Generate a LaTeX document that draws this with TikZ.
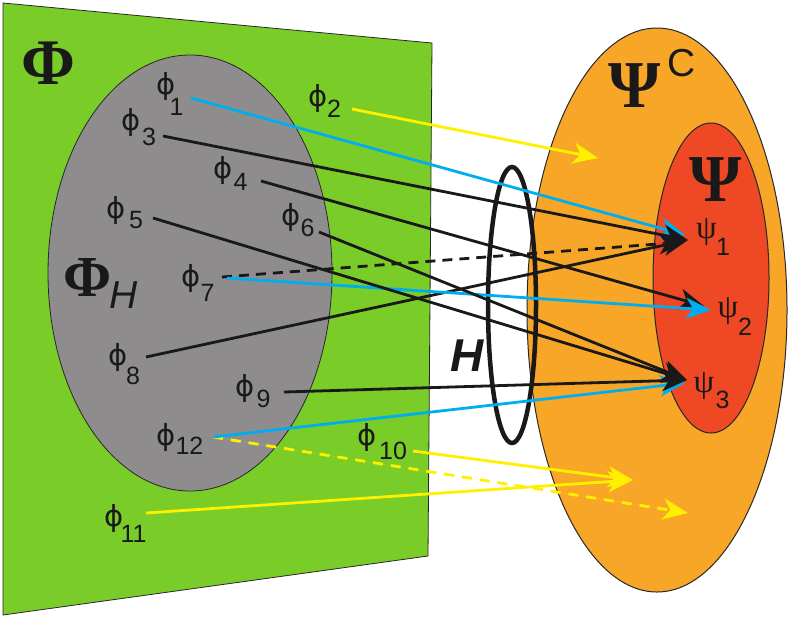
\documentclass[tikz,border=0pt]{standalone}
\usepackage{fontspec}
\setmainfont{Liberation Sans}
\newfontfamily\serifgr{Liberation Serif}
\newfontfamily\dejavu{DejaVu Sans}
\usetikzlibrary{arrows.meta}
\definecolor{planegreen}{RGB}{122,204,41}
\definecolor{setgray}{RGB}{142,140,141}
\definecolor{setorange}{RGB}{247,166,40}
\definecolor{setred}{RGB}{238,72,36}
\definecolor{mapblue}{RGB}{0,174,239}
\definecolor{mapyellow}{RGB}{255,240,0}
\definecolor{edgegray}{RGB}{40,40,40}
\tikzset{
  phil/.style={font=\dejavu\fontsize{29}{31}\selectfont, inner sep=0pt, text=black!90},
  subl/.style={font=\fontsize{25}{27}\selectfont, inner sep=0pt, text=black!90},
  psil/.style={font=\serifgr\fontsize{33}{35}\selectfont, inner sep=0pt, text=black!90},
  bigl/.style={font=\serifgr\bfseries\fontsize{65}{70}\selectfont, inner sep=0pt, text=black!90},
  tipstyle/.style={-{Stealth[length=25pt,width=21pt,inset=7pt]}},
  blackmap/.style={tipstyle, line width=2.8pt, draw=black!90},
  bluemap/.style={tipstyle, line width=2.8pt, draw=mapblue, fill=mapblue},
  yellowmap/.style={tipstyle, line width=2.8pt, draw=mapyellow, fill=mapyellow},
  blackdash/.style={blackmap, dash pattern=on 10pt off 7pt},
  yellowdash/.style={yellowmap, dash pattern=on 10pt off 8pt}
}
\begin{document}
\begin{tikzpicture}[x=1pt,y=-1pt]
\useasboundingbox (0,0) rectangle (791,619);
% domain plane
\draw[fill=planegreen, draw=edgegray, line width=0.8pt] (3,3) -- (432,43) -- (428,556) -- (3,615) -- cycle;
\draw[fill=setgray, draw=edgegray, line width=0.8pt] (190,273) ellipse [x radius=142pt, y radius=218pt];
% codomain
\draw[fill=setorange, draw=edgegray, line width=1pt] (657,310) ellipse [x radius=130pt, y radius=282pt];
\draw[fill=setred, draw=edgegray, line width=1pt] (711,278) ellipse [x radius=58pt, y radius=155pt];
% H ring
\draw[draw=black!90, line width=4.5pt] (512,305) ellipse [x radius=24pt, y radius=138pt];

% labels
\node[bigl] (Phi) at (48.5,63.5) {Φ};
\node[bigl, font=\serifgr\bfseries\fontsize{58}{62}\selectfont] (PhiH) at (87.5,277.5) {Φ};
\node[inner sep=0pt, font=\itshape\fontsize{39}{41}\selectfont, text=black!90] (PhiHsub) at (124,295) {H};
\node[bigl, font=\serifgr\bfseries\fontsize{67}{70}\selectfont] (PsiC) at (634.5,85.5) {Ψ};
\node[inner sep=0pt, font=\fontsize{39}{41}\selectfont, text=black!90] (PsiCsup) at (682,63.5) {C};
\node[bigl, font=\serifgr\bfseries\fontsize{67}{70}\selectfont] (Psi) at (716,180) {Ψ};
\node[inner sep=0pt, font=\bfseries\itshape\fontsize{46}{48}\selectfont, text=black!90] (Hlab) at (467,356) {H};

% phi labels
\node[phil] (p1) at (166,86) {ϕ};     \node[subl] (p1s) at (176.5,106.5) {1};
\node[phil] (p2) at (318,98) {ϕ};     \node[subl] (p2s) at (334,109) {2};
\node[phil] (p3) at (131.5,122.5) {ϕ};\node[subl] (p3s) at (149,136.5) {3};
\node[phil] (p4) at (223.5,170) {ϕ};  \node[subl] (p4s) at (240.5,181.5) {4};
\node[phil] (p5) at (116.5,210) {ϕ};  \node[subl] (p5s) at (136,220) {5};
\node[phil] (p6) at (291.5,217) {ϕ};  \node[subl] (p6s) at (307.5,227.5) {6};
\node[phil] (p7) at (191.5,278) {ϕ};  \node[subl] (p7s) at (207.5,292.5) {7};
\node[phil] (p8) at (118.5,357.5) {ϕ};\node[subl] (p8s) at (133,376) {8};
\node[phil] (p9) at (245,388.5) {ϕ};  \node[subl] (p9s) at (263.5,398.5) {9};
\node[phil] (p12) at (166.5,437) {ϕ}; \node[subl] (p12s) at (189.5,446) {12};
\node[phil] (p10) at (367.5,437) {ϕ}; \node[subl] (p10s) at (393,450.5) {10};
\node[phil] (p11) at (114.5,518) {ϕ}; \node[subl] (p11s) at (133.5,534) {11};

% psi labels
\node[psil] (q1) at (706.5,232.5) {ψ}; \node[subl] (q1s) at (723,247) {1};
\node[psil] (q2) at (728,311) {ψ};     \node[subl] (q2s) at (745,327) {2};
\node[psil] (q3) at (704,386) {ψ};     \node[subl] (q3s) at (722.5,399.5) {3};

% line start and end points
\coordinate (s1) at (191,98);
\coordinate (s2) at (352,109);
\coordinate (s3) at (163,136);
\coordinate (s4) at (261,181);
\coordinate (s5) at (153,218);
\coordinate (s6) at (319,232);
\coordinate (s7d) at (222,277);
\coordinate (s7) at (227,278);
\coordinate (s8) at (146,357);
\coordinate (s9) at (284,392);
\coordinate (s12) at (213,437);
\coordinate (s10) at (413,451);
\coordinate (s11) at (146,513);
\coordinate (t1) at (688,240);
\coordinate (t1b) at (685,235);
\coordinate (t1d) at (684,242);
\coordinate (t2) at (704,306);
\coordinate (t2b) at (711,310);
\coordinate (t3) at (687,380);
\coordinate (t3b) at (685,383);
\coordinate (y1) at (598,158);
\coordinate (y2) at (633,480);
\coordinate (y3) at (688,513);

% mappings
\draw[yellowmap] (s2) -- (y1);
\draw[yellowdash] (s12) -- (y3);
\draw[yellowmap] (s10) -- (y2);
\draw[yellowmap] (s11) -- (y2);
\draw[bluemap] (s1) -- (t1b);
\draw[bluemap] (s12) -- (t3b);
\draw[blackdash] (s7d) -- (t1d);
\draw[blackmap] (s3) -- (t1);
\draw[blackmap] (s8) -- (t1);
\draw[blackmap] (s4) -- (t2);
\draw[bluemap] (s7) -- (t2b);
\draw[blackmap] (s5) -- (t3);
\draw[blackmap] (s6) -- (t3);
\draw[blackmap] (s9) -- (t3);
\end{tikzpicture}
\end{document}
